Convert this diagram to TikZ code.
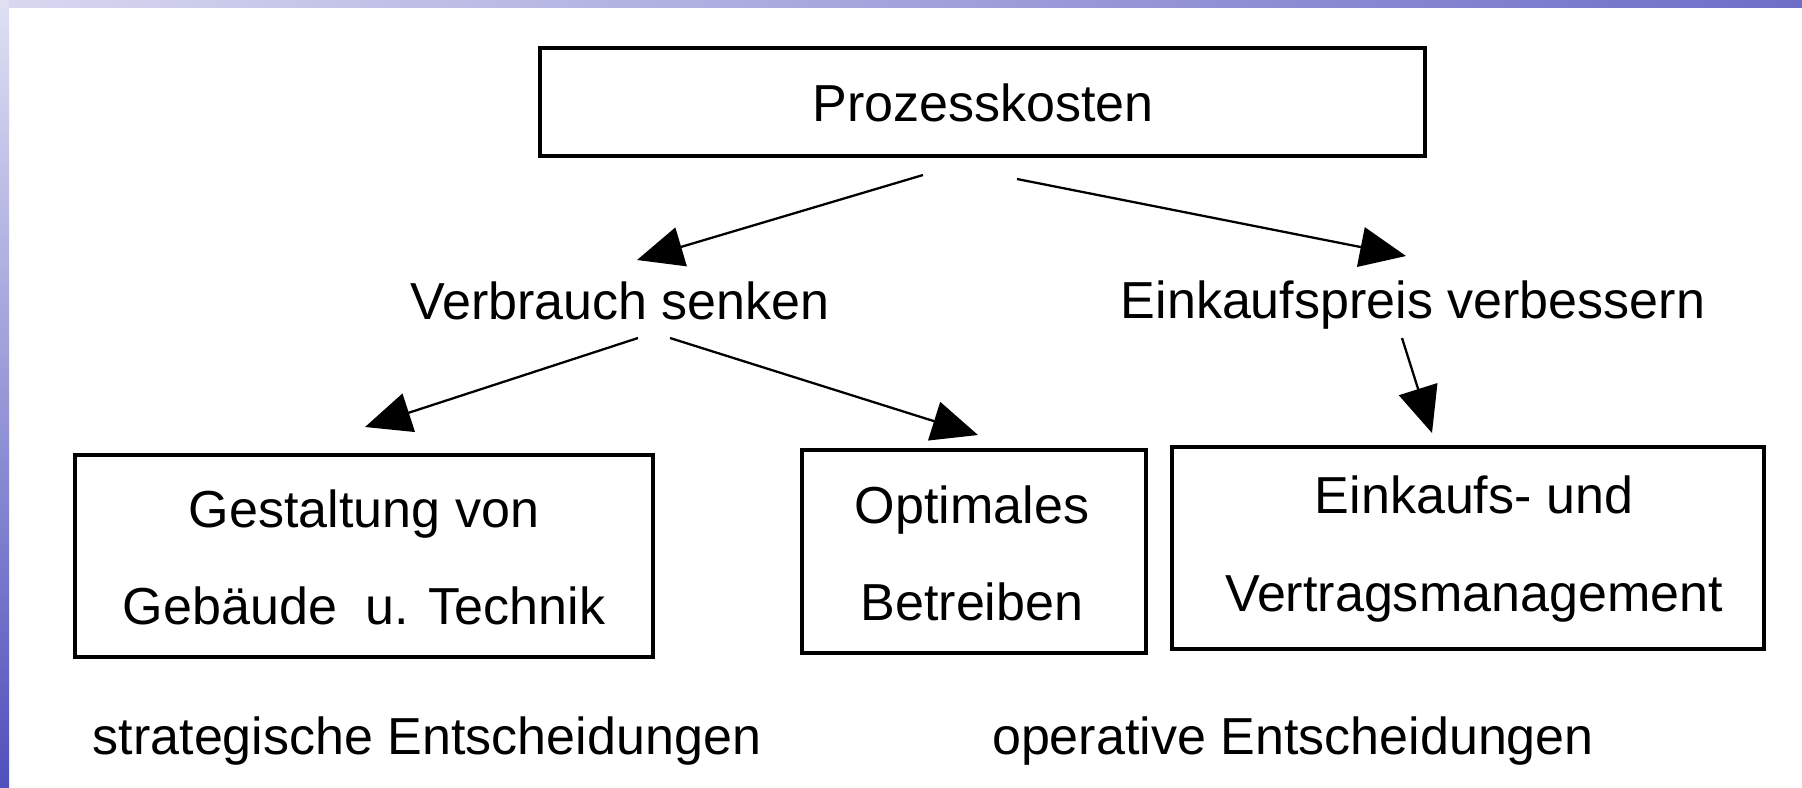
\documentclass[tikz,border=0pt]{standalone}
\usepackage{fontspec}
\setmainfont{Liberation Sans}
\usetikzlibrary{arrows.meta}
\begin{document}
\begin{tikzpicture}[x=0.01cm,y=-0.01cm,
  every node/.style={font=\fontsize{14.8}{27.6}\selectfont, inner sep=0pt, align=center},
  boxline/.style={line width=1.1pt},
  conn/.style={line width=0.65pt, -{Triangle[length=0.46cm,width=0.4cm]}}]
\useasboundingbox (0,0) rectangle (1802,787);
% background frame
\fill[white] (0,0) rectangle (1802,787);
\shade[left color={rgb,255:red,216;green,216;blue,240}, right color={rgb,255:red,110;green,110;blue,200}] (0,0) rectangle (1802,7);
\shade[top color={rgb,255:red,224;green,224;blue,244}, bottom color={rgb,255:red,80;green,80;blue,188}] (0,0) rectangle (9,787);
% boxes
\draw[boxline] (540,48) rectangle (1425,156);
\node (pk) at (983,103) {Prozesskosten};
\node (vs) at (620,301) {Verbrauch senken};
\node (ev) at (1413,305) {Einkaufspreis verbessern};
\draw[boxline] (75,455) rectangle (653,657);
\node (gb) at (364,557) {Gestaltung von\\Gebäude\ \ u. Technik};
\draw[boxline] (802,450) rectangle (1146,653);
\node (ob) at (972,553) {Optimales\\Betreiben};
\draw[boxline] (1172,447) rectangle (1764,649);
\node (ek) at (1474,549) {Einkaufs- und\\Vertragsmanagement};
\node (st) at (427,741) {strategische Entscheidungen};
\node (op) at (1293,741) {operative Entscheidungen};
% connector endpoints
\coordinate (a1s) at (923,175); \coordinate (a1e) at (637,260);
\coordinate (a2s) at (1017,179); \coordinate (a2e) at (1406,256);
\coordinate (a3s) at (638,338); \coordinate (a3e) at (365,427);
\coordinate (a4s) at (670,338); \coordinate (a4e) at (978,435);
\coordinate (a5s) at (1402,338); \coordinate (a5e) at (1432,433);
\draw[conn] (a1s) -- (a1e);
\draw[conn] (a2s) -- (a2e);
\draw[conn] (a3s) -- (a3e);
\draw[conn] (a4s) -- (a4e);
\draw[conn] (a5s) -- (a5e);
\end{tikzpicture}
\end{document}
